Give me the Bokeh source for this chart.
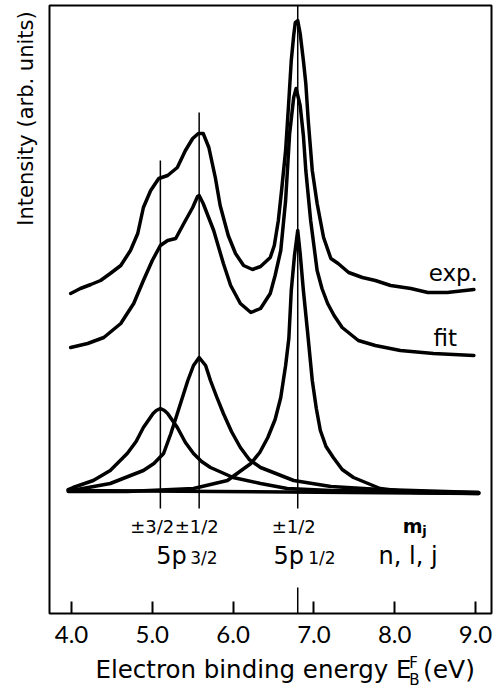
from bokeh.plotting import figure
from bokeh.models import Range1d, FixedTicker, PrintfTickFormatter, Label
from bokeh.layouts import row, column
from bokeh.embed import file_html
from bokeh.resources import INLINE
import math

# ---- data (binding energy in eV, intensity in arb. units) ----
energy_exp = [3.99, 4.11, 4.24, 4.36, 4.48, 4.61, 4.73, 4.82, 4.89, 4.98, 5.08, 5.19, 5.31, 5.41,
              5.50, 5.57, 5.63, 5.70, 5.78, 5.84, 5.94, 6.03, 6.13, 6.24, 6.34, 6.46, 6.51, 6.56,
              6.60, 6.65, 6.69, 6.72, 6.75, 6.77, 6.80, 6.83, 6.87, 6.90, 6.93, 6.98, 7.04, 7.12,
              7.21, 7.30, 7.43, 7.60, 7.76, 7.95, 8.20, 8.41, 8.65, 8.98]
intensity_exp = [198, 203, 207, 211, 218, 226, 241, 258, 284, 301, 313, 316, 324, 341,
                 353, 358, 358, 344, 314, 286, 256, 238, 226, 222, 225, 234, 246, 271,
                 301, 341, 391, 431, 456, 469, 471, 458, 431, 408, 371, 321, 288, 254,
                 233, 228, 219, 214, 211, 206, 203, 199, 199, 202]

energy_fit = [3.99, 4.20, 4.40, 4.61, 4.77, 4.89, 5.00, 5.10, 5.19, 5.29, 5.39, 5.50, 5.56, 5.58,
              5.63, 5.76, 5.88, 5.97, 6.09, 6.22, 6.34, 6.46, 6.52, 6.59, 6.65, 6.70, 6.75, 6.78,
              6.83, 6.87, 6.90, 6.96, 7.04, 7.10, 7.17, 7.25, 7.35, 7.55, 7.76, 8.07, 8.48, 8.98]
intensity_fit = [144, 148, 154, 168, 188, 211, 231, 246, 251, 253, 268, 284, 295, 296,
                 288, 261, 228, 206, 188, 179, 183, 198, 216, 241, 291, 358, 394, 403,
                 386, 356, 321, 271, 221, 203, 188, 176, 164, 151, 146, 141, 138, 136]

energy_c1 = [3.96, 4.02, 4.27, 4.48, 4.69, 4.80, 4.89, 5.01, 5.05, 5.10, 5.15, 5.19, 5.31, 5.41,
             5.51, 5.61, 5.72, 6.00, 6.34, 6.67, 7.21, 8.07, 9.04]
intensity_c1 = [2, 4, 11, 21, 38, 50, 64, 78, 81, 83, 81, 78, 64, 49,
                38, 30, 24, 14, 8, 3, 1, 0, -1]

energy_c2 = [3.96, 4.07, 4.48, 4.89, 5.02, 5.14, 5.23, 5.31, 5.44, 5.51, 5.58, 5.66, 5.72, 5.80,
             5.88, 5.98, 6.09, 6.20, 6.34, 6.75, 7.21, 7.82, 9.04]
intensity_c2 = [1, 2, 8, 21, 28, 38, 58, 78, 111, 126, 134, 126, 111, 94,
                78, 60, 44, 32, 24, 11, 5, 2, -1]

energy_c3 = [3.96, 4.69, 5.51, 5.93, 6.22, 6.33, 6.43, 6.52, 6.59, 6.65, 6.69, 6.72, 6.76, 6.80,
             6.83, 6.87, 6.92, 6.98, 7.03, 7.08, 7.15, 7.24, 7.35, 7.49, 7.82, 8.23, 9.04]
intensity_c3 = [0, 0, 3, 11, 28, 39, 54, 72, 94, 126, 153, 201, 236, 261,
                238, 201, 161, 111, 83, 61, 45, 34, 22, 14, 3, -1, -2]

energy_base = [3.96, 9.04]
intensity_base = [1, -2]

line_energies = [5.10, 5.58, 6.80]
line_tops = [331, 379, 486]
line_bottom = -17

tick_values = [4, 5, 6, 7, 8, 9]
mj_texts = ["±3/2", "±1/2", "±1/2"]
mj_energies = [5.00, 5.55, 6.75]

TICK_FONT = "Lato"
FONT = "DejaVu Sans"

x_range = Range1d(3.728, 9.198)

# ---- main plot ----
p = figure(width=447, height=655, output_backend="svg", toolbar_location=None,
           x_range=x_range, y_range=Range1d(-122, 486), y_axis_location=None,
           min_border_left=2, min_border_right=3, min_border_top=5, min_border_bottom=42)
p.background_fill_color = "white"
p.border_fill_color = "white"
p.outline_line_color = "black"
p.outline_line_width = 2
p.grid.visible = False

xa = p.xaxis[0]
xa.ticker = FixedTicker(ticks=tick_values)
xa.formatter = PrintfTickFormatter(format="%.1f")
xa.axis_line_color = None
xa.major_tick_in = 12
xa.major_tick_out = 0
xa.major_tick_line_width = 2
xa.major_tick_line_color = "black"
xa.minor_tick_line_color = None
xa.major_label_text_font = TICK_FONT
xa.major_label_text_font_size = "24px"
xa.major_label_text_color = "black"
xa.major_label_standoff = 12

lw = 3.5
for ex, iy in [(energy_exp, intensity_exp), (energy_fit, intensity_fit),
               (energy_c1, intensity_c1), (energy_c2, intensity_c2),
               (energy_c3, intensity_c3), (energy_base, intensity_base)]:
    p.line(ex, iy, line_color="black", line_width=lw, line_join="round", line_cap="round")

p.segment(x0=line_energies, y0=line_tops, x1=line_energies, y1=[line_bottom] * 3,
          line_color="black", line_width=1.5)
p.segment(x0=[line_energies[2]], y0=[-96], x1=[line_energies[2]], y1=[-122],
          line_color="black", line_width=1.5)


def lab(fig, x, y, text, size, align="left", angle=0.0, style="normal", font=FONT):
    fig.add_layout(Label(x=x, y=y, text=text, text_font=font, text_font_size=size,
                         text_align=align, text_baseline="middle", angle=angle,
                         text_color="black", text_font_style=style))


lab(p, 8.42, 219, "exp.", "23px")
lab(p, 8.48, 154, "fit", "23px")
for t, e in zip(mj_texts, mj_energies):
    lab(p, e, -35, t, "18px", align="center")
lab(p, 8.10, -34, "m", "19px", style="bold")
lab(p, 8.34, -39, "j", "13px", style="bold")

lab(p, 5.05, -64, "5p", "24px")
lab(p, 5.47, -66, "3/2", "17px")
lab(p, 6.50, -64, "5p", "24px")
lab(p, 6.93, -66, "1/2", "17px")
lab(p, 7.80, -64, "n, l, j", "24px")

# ---- strip below: x-axis title ----
b = figure(width=447, height=34, output_backend="svg", toolbar_location=None,
           x_range=x_range, y_range=Range1d(0, 34), x_axis_location=None, y_axis_location=None,
           min_border_left=2, min_border_right=3, min_border_top=0, min_border_bottom=0)
b.outline_line_color = None
b.grid.visible = False
b.background_fill_color = "white"
b.border_fill_color = "white"
lab(b, 4.297, 20, "Electron binding energy E", "24.5px")
lab(b, 8.18, 27, "F", "15px")
lab(b, 8.18, 10, "B", "15px")
lab(b, 8.35, 20, "(eV)", "25px")

# ---- strip left: y-axis title ----
l = figure(width=47, height=689, output_backend="svg", toolbar_location=None,
           x_range=Range1d(0, 47), y_range=Range1d(0, 689), x_axis_location=None,
           y_axis_location=None, min_border=0)
l.outline_line_color = None
l.grid.visible = False
l.background_fill_color = "white"
l.border_fill_color = "white"
lab(l, 25, 571, "Intensity (arb. units)", "21px", align="center", angle=math.pi / 2)

layout = row(l, column(p, b, spacing=0), spacing=0)
open("out.html", "w").write(file_html(layout, INLINE))
